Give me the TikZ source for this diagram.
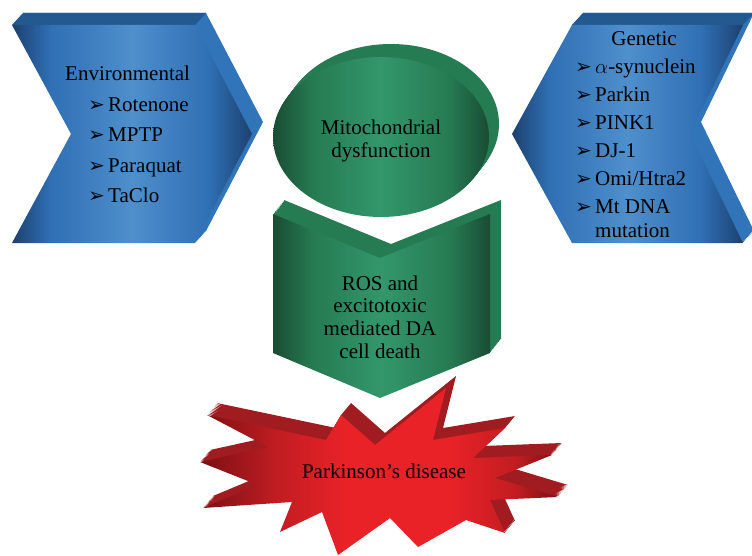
\documentclass[tikz,border=0pt]{standalone}
\usepackage{fontspec}
\setmainfont{Liberation Serif}
\newfontfamily\dingfont{DejaVu Sans}
\newcommand{\bul}{\makebox[20pt][l]{\dingfont\fontsize{20}{20}\selectfont ➢}}

\definecolor{bluedark}{HTML}{1C416F}
\definecolor{bluemain}{HTML}{2F6FB4}
\definecolor{bluemid}{HTML}{4E8FCC}
\definecolor{bluebevel}{HTML}{3174B7}
\definecolor{bluetop}{HTML}{24598F}
\definecolor{greendark}{HTML}{194C33}
\definecolor{greenmain}{HTML}{267A52}
\definecolor{greenmid}{HTML}{33976B}
\definecolor{greenbevel}{HTML}{257C52}
\definecolor{reddark}{HTML}{7A1013}
\definecolor{redmain}{HTML}{C21D22}
\definecolor{redmid}{HTML}{E82227}
\definecolor{redbevel}{HTML}{A01C20}

\pgfdeclarehorizontalshading{blueshade}{100bp}{color(0bp)=(bluedark); color(25bp)=(bluedark);
  color(33bp)=(bluemain); color(50bp)=(bluemid); color(66bp)=(bluemain); color(75bp)=(bluedark);
  color(100bp)=(bluedark)}
\pgfdeclarehorizontalshading{greenshade}{100bp}{color(0bp)=(greendark); color(25bp)=(greendark);
  color(34bp)=(greenmain); color(50bp)=(greenmid); color(66bp)=(greenmain); color(75bp)=(greendark);
  color(100bp)=(greendark)}
\pgfdeclarehorizontalshading{redshade}{100bp}{color(0bp)=(reddark); color(25bp)=(reddark);
  color(36bp)=(redmain); color(45bp)=(redmid); color(60bp)=(redmid); color(69bp)=(redmain);
  color(75bp)=(reddark); color(100bp)=(reddark)}

\tikzset{
  txt/.style={font=\fontsize{21}{22.7}\selectfont, inner sep=0pt},
  blueface/.style={shading=blueshade},
  greenface/.style={shading=greenshade},
  redface/.style={shading=redshade}
}

\begin{document}
\begin{tikzpicture}[x=1pt,y=-1pt,line join=round]
  \useasboundingbox (0,0) rectangle (752,556);

  % environmental chevron
  \def\envshape{(12,25) -- (195,25) -- (252,134) -- (195,243) -- (12,243) -- (71,134) -- cycle}
  \foreach \k in {1,...,10}
    \fill[bluebevel,shift={(1.1*\k,-1.2*\k)}] \envshape;
  \fill[bluetop] (12,25) -- (195,25) -- (206,13) -- (23,13) -- cycle;
  \shade[blueface] \envshape;

  % genetic chevron
  \def\genshape{(572,25) -- (743,25) -- (690,134) -- (743,243) -- (572,243) -- (512,134) -- cycle}
  \foreach \k in {1,...,10}
    \fill[bluebevel,shift={(1.1*\k,-1.2*\k)}] \genshape;
  \fill[bluetop] (572,25) -- (743,25) -- (754,13) -- (583,13) -- cycle;
  \shade[blueface] \genshape;

  % mitochondrial disc
  \foreach \k in {1,...,10}
    \fill[greenbevel] (381+\k,137-1.3*\k) ellipse [x radius=108pt, y radius=80pt];
  \shade[greenface] (381,137) ellipse [x radius=108pt, y radius=80pt];

  % ROS block
  \def\rosshape{(273,214) -- (380,258) -- (490,214) -- (490,353) -- (380,398) -- (273,353) -- cycle}
  \foreach \k in {1,...,10}
    \fill[greenbevel,shift={(1.1*\k,-1.4*\k)}] \rosshape;
  \shade[greenface] \rosshape;

  % burst
  \def\burst{(207,415) -- (326,440) -- (341,415) -- (375,445) -- (446,388) -- (433,440)
    -- (505,428) -- (473,458) -- (552,455) -- (495,478) -- (558,497) -- (490,500)
    -- (505,533) -- (466,520) -- (418,547) -- (390,518) -- (338,555) -- (322,512)
    -- (280,532) -- (292,502) -- (203,508) -- (258,485) -- (200,462) -- (268,447) -- cycle}
  \foreach \k in {1,...,10}
    \fill[redbevel,shift={(1.0*\k,-1.2*\k)}] \burst;
  \shade[redface] \burst;

  % texts
  \node[txt,anchor=base west] (env) at (65,81) {Environmental};
  \foreach \name [count=\i] in {Rotenone,MPTP,Paraquat,TaClo}
    \node[txt,anchor=base west] (env\i) at (88,{81+30.5*\i}) {\bul\name};

  \node[txt,anchor=base] (gen) at (644,46) {Genetic};
  \foreach \name [count=\i] in {{$\alpha$-synuclein},Parkin,PINK1,DJ-1,Omi/Htra2,Mt DNA}
    \node[txt,anchor=base west] (gen\i) at (575,{46+27.9*\i}) {\bul\name};
  \node[txt,anchor=base west] (gen7) at (595,237) {mutation};

  \node[txt,align=center] (mito) at (381,141) {Mitochondrial\\dysfunction};
  \node[txt,align=center] (ros) at (380,317) {ROS and\\excitotoxic\\mediated DA\\cell death};
  \node[txt,anchor=base] (pd) at (384,478) {Parkinson’s disease};
\end{tikzpicture}
\end{document}
